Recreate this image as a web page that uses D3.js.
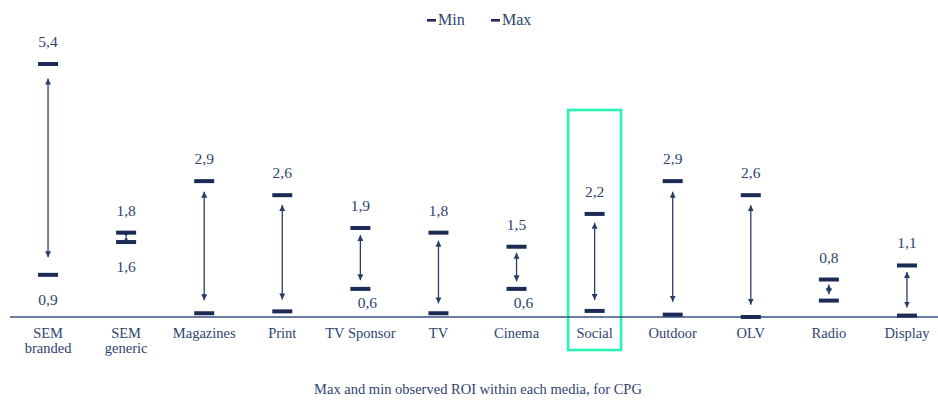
<!DOCTYPE html>
<html><head><meta charset="utf-8">
<script src="https://cdn.jsdelivr.net/npm/d3@7"></script>
<style>
html,body{margin:0;padding:0;background:#fff;}
svg{display:block;}
</style></head>
<body><svg id="c" width="938" height="402"></svg>
<script>
const categories = [["SEM","branded"],["SEM","generic"],["Magazines"],["Print"],["TV Sponsor"],["TV"],["Cinema"],["Social"],["Outdoor"],["OLV"],["Radio"],["Display"]];
const maxValues = [5.4, 1.8, 2.9, 2.6, 1.9, 1.8, 1.5, 2.2, 2.9, 2.6, 0.8, 1.1];
const minValues = [0.9, 1.6, 0.08, 0.12, 0.6, 0.08, 0.6, 0.13, 0.05, 0.0, 0.35, 0.03];
const maxLabels = ["5,4","1,8","2,9","2,6","1,9","1,8","1,5","2,2","2,9","2,6","0,8","1,1"];
const minLabels = ["0,9","1,6",null,null,"0,6",null,"0,6",null,null,null,null,null];
const highlighted = "Social";
const legendItems = ["Min","Max"];
const caption = "Max and min observed ROI within each media, for CPG";

const FONT = "'Liberation Serif', 'DejaVu Serif', 'Times New Roman', serif";
const markColor = "#1b2b55", arrowColor = "#2a3d6a", textColor = "#2e4470", axisColor = "#3b5283";
const svg = d3.select("#c").attr("font-family", FONT);
const keys = categories.map(c => c.join(" "));
const x = d3.scaleBand().domain(keys).range([9, 946]);
const y = d3.scaleLinear().domain([0, 5.4]).range([317, 64]);
const data = keys.map((k,i) => ({k, lines: categories[i], max: maxValues[i], min: minValues[i], maxL: maxLabels[i], minL: minLabels[i], i}));

const defs = svg.append("defs");
defs.append("marker").attr("id","ah").attr("viewBox","0 0 10 10").attr("refX",10).attr("refY",5)
  .attr("markerWidth",6).attr("markerHeight",6).attr("markerUnits","userSpaceOnUse").attr("orient","auto-start-reverse")
  .append("path").attr("d","M0,0 L10,5 L0,10 z").attr("fill",arrowColor);

// highlight box
const hx = x(highlighted) + x.bandwidth()/2;
svg.append("rect").attr("x", hx - 26.5).attr("y", 110).attr("width", 53).attr("height", 240)
  .attr("fill","none").attr("stroke","#2af3b6").attr("stroke-width",2.6);

// axis baseline
const axis = d3.axisBottom(x).tickSize(0).tickFormat("");
svg.append("g").attr("transform",`translate(0,${y(0)})`).call(axis)
  .call(g => g.select(".domain").attr("stroke",axisColor).attr("stroke-width",1.3).attr("d","M10,0H938"));

const cx = d => x(d.k) + x.bandwidth()/2;

// arrows
svg.append("g").selectAll("line").data(data).join("line")
  .attr("x1", cx).attr("x2", cx)
  .attr("y1", d => { const r = y(d.min)-y(d.max); return y(d.max) + 4 + 0.05*r; })
  .attr("y2", d => { const r = y(d.min)-y(d.max); return y(d.min) - 5 - 0.06*r; })
  .attr("stroke", arrowColor).attr("stroke-width",1.3)
  .attr("marker-start","url(#ah)").attr("marker-end","url(#ah)");

// min/max markers
const mw = 20, mh = 4;
svg.append("g").selectAll("rect").data(data.flatMap(d => [{d, v:d.min},{d, v:d.max}])).join("rect")
  .attr("x", o => cx(o.d) - mw/2).attr("y", o => y(o.v) - mh/2)
  .attr("width", mw).attr("height", mh).attr("fill", markColor);

// value labels
svg.append("g").selectAll("text").data(data).join("text")
  .attr("font-family", FONT)
  .attr("x", cx).attr("y", d => y(d.max) - 17)
  .attr("text-anchor","middle").attr("font-size",15.5).attr("fill",textColor).text(d => d.maxL);
svg.append("g").selectAll("text").data(data.filter(d => d.minL)).join("text")
  .attr("font-family", FONT)
  .attr("x", d => cx(d) + (d.i < 2 ? 0 : 7)).attr("y", d => y(d.min) + (d.i < 2 ? 30 : 19))
  .attr("text-anchor","middle").attr("font-size",15.5).attr("fill",textColor).text(d => d.minL);

// category labels
const cat = svg.append("g").selectAll("text").data(data).join("text")
  .attr("font-family", FONT)
  .attr("x", cx).attr("y", 338).attr("text-anchor","middle").attr("font-size",14.5).attr("fill",textColor);
cat.selectAll("tspan").data(d => d.lines).join("tspan")
  .attr("x", function(){ return d3.select(this.parentNode).attr("x"); })
  .attr("dy", (t,j) => j ? 15 : 0).text(t => t);

// legend
const lg = svg.append("g");
const lx = [427, 491];
legendItems.forEach((t,i) => {
  lg.append("rect").attr("x", lx[i]).attr("y", 19).attr("width", 9).attr("height", 2.6).attr("fill", markColor);
  lg.append("text").attr("font-family", FONT).attr("x", lx[i] + 11).attr("y", 25).attr("font-size",16).attr("fill",textColor).text(t);
});

// caption
svg.append("text").attr("font-family", FONT).attr("x", 478).attr("y", 394).attr("text-anchor","middle").attr("font-size",14.5)
  .attr("fill",textColor).text(caption);
</script></body></html>
